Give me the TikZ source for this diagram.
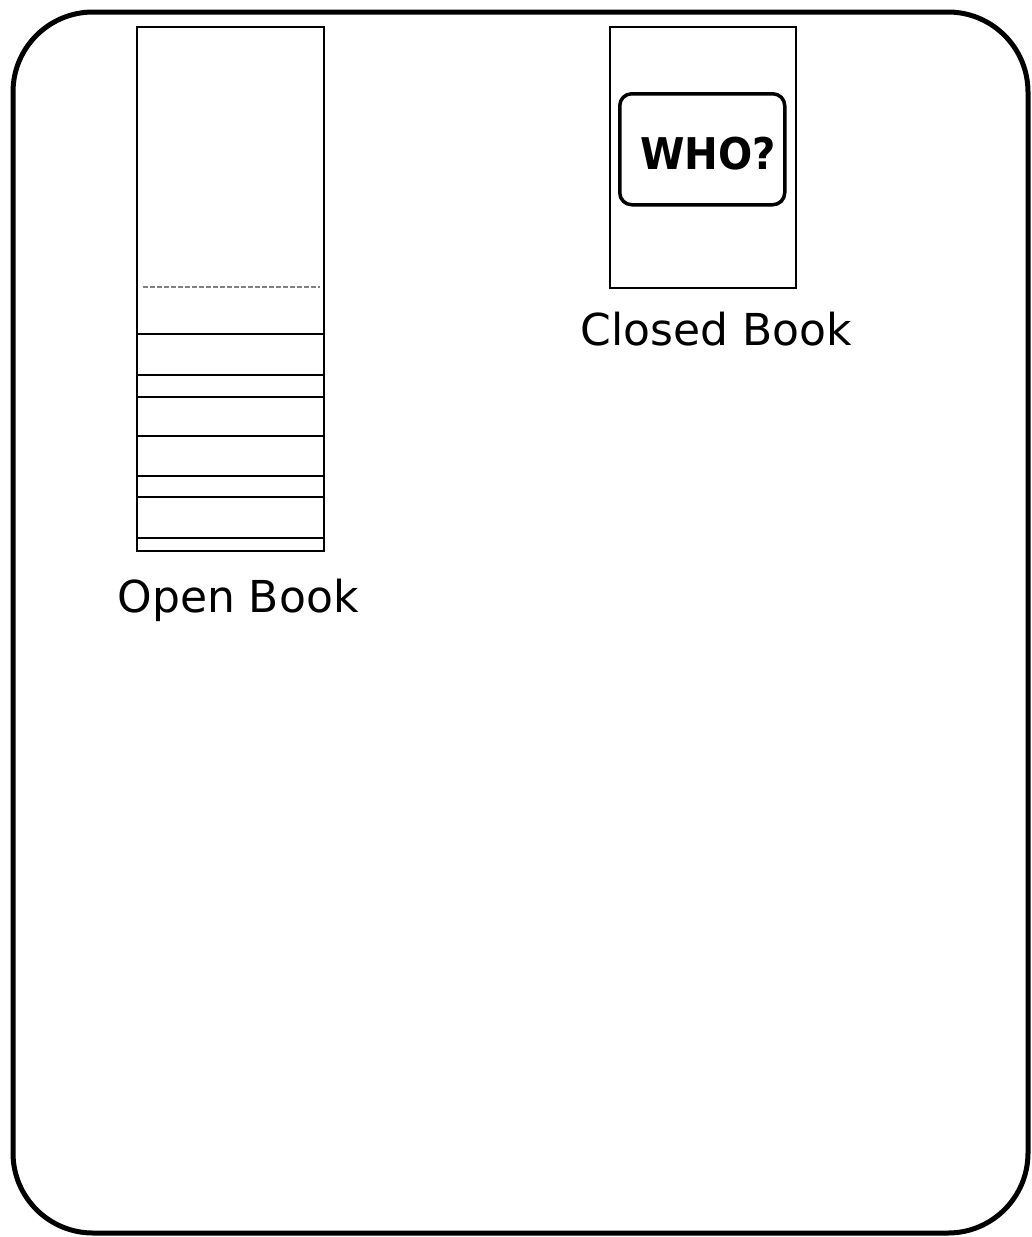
\documentclass[tikz,border=0pt]{standalone}
\usepackage{fontspec}
\setmainfont{DejaVu Sans}
\usetikzlibrary{calc}
\begin{document}
\begin{tikzpicture}[x=1pt,y=-1pt,
  frame/.style={draw=black, line width=5pt, rounded corners=80pt},
  bookbox/.style={draw=black, line width=2pt, inner sep=0pt, anchor=north west},
  pageline/.style={draw=black, line width=1.8pt},
  foldline/.style={draw=gray, line width=1.2pt, dash pattern=on 5pt off 2pt},
  caption/.style={font=\fontsize{44}{50}\selectfont, inner sep=0pt},
  whobox/.style={draw=black, line width=3.5pt, rounded corners=12pt, inner sep=0pt, anchor=north west},
  whotext/.style={font=\bfseries\fontsize{38}{40}\selectfont, inner sep=0pt}]
\useasboundingbox (0,0) rectangle (1031,1237);
\fill[white] (0,0) rectangle (1031,1237);
\draw[frame] (13,12) rectangle (1028,1233);

% open book
\node[bookbox, minimum width=187pt, minimum height=524pt] (open) at (136,26) {};
\coordinate (fl) at (143,287);
\coordinate (fr) at (320,287);
\draw[foldline] (fl) -- (fr);
\foreach \yy in {334,375,397,436,476,497,538}{
  \draw[pageline] (136,\yy) -- (323,\yy);
}
\node[caption] (openlbl) at (238,600) {Open Book};

% closed book
\node[bookbox, minimum width=186pt, minimum height=261pt] (closed) at (609,26) {};
\node[whobox, minimum width=165pt, minimum height=111pt] (cover) at (618,92) {};
\node[whotext] (who) at (708,154) {\scalebox{1.06}[1.15]{WHO?}};
\node[caption] (closedlbl) at (716,329) {Closed Book};
\end{tikzpicture}
\end{document}
